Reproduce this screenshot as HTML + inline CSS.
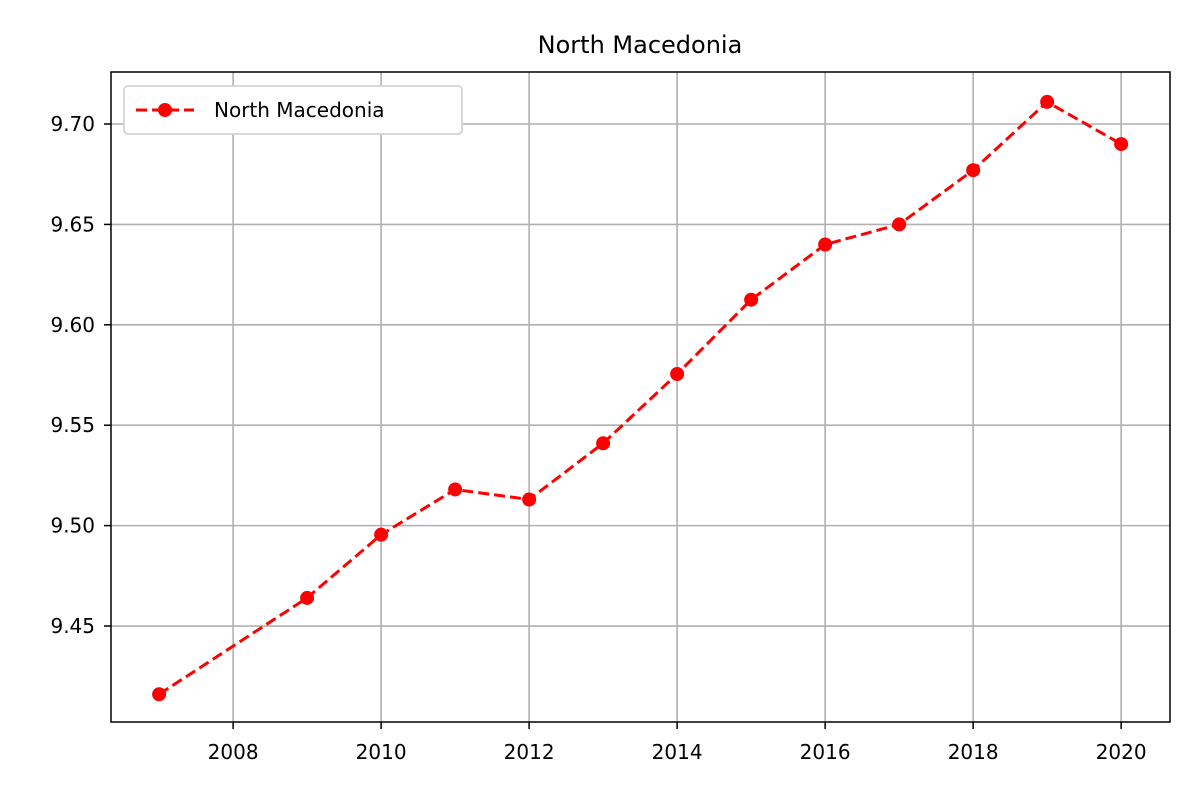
<!DOCTYPE html>
<html><head><meta charset="utf-8"><style>
body{margin:0;background:#fff;}
svg{display:block;font-family:"DejaVu Sans","Liberation Sans",sans-serif;}
</style></head><body>
<svg id="chart" width="1200" height="800">
<text x="640" y="53" font-size="24" text-anchor="middle">North Macedonia</text>
<g id="grid"></g>
<g id="series"></g>
<rect x="111" y="72" width="1059" height="650" fill="none" stroke="#000" stroke-width="1.5"/>
<g id="ticks"></g>
<g>
<rect x="124" y="86" width="338" height="48" rx="4" fill="#fff" stroke="#ccc" stroke-width="1.5"/>
<line x1="136" y1="110" x2="194" y2="110" stroke="red" stroke-width="3" stroke-dasharray="11,5"/>
<circle cx="165" cy="110" r="7" fill="red"/>
<text x="214" y="117" font-size="20">North Macedonia</text>
</g>
</svg>
<script>
const years=[2007,2009,2010,2011,2012,2013,2014,2015,2016,2017,2018,2019,2020];
const values=[9.416,9.464,9.4955,9.518,9.513,9.541,9.5755,9.6125,9.640,9.650,9.677,9.711,9.690];
const xTicks=[2008,2010,2012,2014,2016,2018,2020];
const yTicks=[9.45,9.50,9.55,9.60,9.65,9.70];
const NS="http://www.w3.org/2000/svg";
const L=111,R=1170,T=72,B=722;
const x0=2006.35,x1=2020.66,y0=9.4022,y1=9.7259;
const X=v=>L+(v-x0)/(x1-x0)*(R-L);
const Y=v=>B-(v-y0)/(y1-y0)*(B-T);
function mk(tag,attrs,parent){const e=document.createElementNS(NS,tag);for(const k in attrs)e.setAttribute(k,attrs[k]);document.getElementById(parent).appendChild(e);return e;}
xTicks.forEach(t=>{
 const g=mk('line',{x1:X(t),x2:X(t),y1:T,y2:B,stroke:'#b0b0b0','stroke-width':1.6},'grid');
 
 
 const tk=mk('line',{x1:X(t),x2:X(t),y1:B,y2:B+7,stroke:'#000','stroke-width':1.5},'ticks');
 
 
 const tx=mk('text',{x:X(t),y:B+37,'font-size':20,'text-anchor':'middle'},'ticks');
 tx.textContent=t;
 
 
});
yTicks.forEach(t=>{
 const g=mk('line',{x1:L,x2:R,y1:Y(t),y2:Y(t),stroke:'#b0b0b0','stroke-width':1.6},'grid');
 
 
 const tk=mk('line',{x1:L-7,x2:L,y1:Y(t),y2:Y(t),stroke:'#000','stroke-width':1.5},'ticks');
 
 
 const tx=mk('text',{x:L-16,y:Y(t)+7,'font-size':20,'text-anchor':'end'},'ticks');
 tx.textContent=t.toFixed(2);
 
 
});
const pts=years.map((y,i)=>X(y)+','+Y(values[i])).join(' ');
const pl=mk('polyline',{points:pts,fill:'none',stroke:'red','stroke-width':3,'stroke-dasharray':'11,5'},'series');


years.forEach((y,i)=>{
 const c=mk('circle',{cx:X(y),cy:Y(values[i]),r:7,fill:'red'},'series');
 
 
});
</script>
</body></html>
